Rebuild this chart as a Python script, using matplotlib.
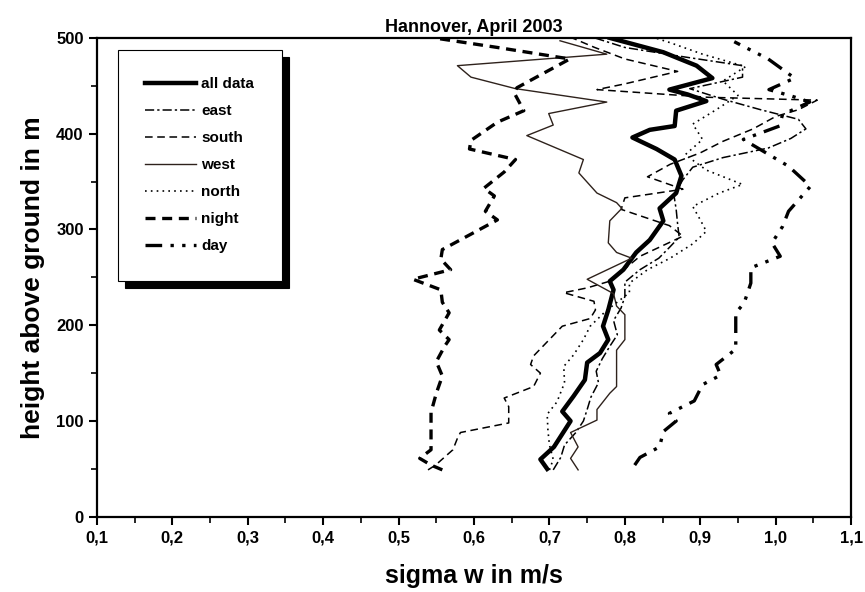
import matplotlib
matplotlib.use("Agg")
import matplotlib.pyplot as plt
from matplotlib.ticker import MultipleLocator, FuncFormatter

plt.rcParams['font.family'] = ['Liberation Sans', 'DejaVu Sans']
plt.rcParams['font.weight'] = 'bold'

# sigma w profiles (height in m, sigma w in m/s)
all_h = [50, 60, 73, 100, 110, 126, 143, 161, 171, 185, 199, 216, 237, 246, 258, 276, 289, 309, 322,
         338, 356, 373, 384, 396, 404, 408, 424, 434, 441, 446, 458, 471, 485, 500]
all_w = [0.697, 0.688, 0.706, 0.728, 0.717, 0.732, 0.747, 0.750, 0.767, 0.778, 0.771, 0.778, 0.785,
         0.780, 0.798, 0.815, 0.833, 0.851, 0.846, 0.868, 0.875, 0.866, 0.842, 0.810, 0.833, 0.866,
         0.868, 0.908, 0.883, 0.859, 0.916, 0.895, 0.851, 0.780]

east_h = [49, 62, 75, 88, 100, 112, 125, 140, 152, 165, 178, 190, 205, 218, 230, 245, 258, 270, 282,
          292, 305, 321, 336, 352, 365, 375, 385, 395, 405, 415, 425, 436, 447, 459, 471, 480, 490, 500]
east_w = [0.705, 0.715, 0.720, 0.735, 0.745, 0.750, 0.755, 0.765, 0.762, 0.770, 0.780, 0.790, 0.785,
          0.795, 0.800, 0.800, 0.820, 0.845, 0.860, 0.872, 0.870, 0.868, 0.865, 0.877, 0.890, 0.930,
          0.990, 1.020, 1.040, 1.030, 0.980, 0.930, 0.886, 0.956, 0.956, 0.880, 0.800, 0.760]

south_h = [49, 54, 70, 82, 88, 98, 115, 124, 136, 150, 159, 168, 199, 207, 216, 225, 234, 239, 246,
           259, 272, 293, 304, 321, 333, 342, 355, 368, 380, 392, 405, 418, 425, 435, 438, 446, 452,
           465, 478, 490, 500]
south_w = [0.539, 0.549, 0.572, 0.578, 0.582, 0.646, 0.646, 0.640, 0.679, 0.688, 0.675, 0.679, 0.717,
           0.754, 0.761, 0.759, 0.719, 0.750, 0.780, 0.800, 0.820, 0.877, 0.859, 0.795, 0.800, 0.877,
           0.830, 0.860, 0.900, 0.930, 0.970, 1.000, 1.030, 1.055, 0.910, 0.763, 0.800, 0.870, 0.800,
           0.760, 0.730]

west_h = [49, 61, 73, 88, 101, 112, 129, 136, 174, 185, 211, 220, 233, 248, 270, 276, 286, 309, 322,
          328, 338, 359, 373, 398, 409, 421, 433, 447, 459, 471, 483, 497]
west_w = [0.738, 0.728, 0.738, 0.728, 0.763, 0.763, 0.780, 0.789, 0.789, 0.800, 0.800, 0.789, 0.785,
          0.750, 0.809, 0.789, 0.778, 0.780, 0.796, 0.789, 0.763, 0.739, 0.745, 0.670, 0.705, 0.699,
          0.776, 0.655, 0.596, 0.578, 0.776, 0.714]

north_h = [49, 60, 75, 90, 107, 120, 140, 157, 169, 185, 199, 215, 234, 244, 258, 270, 285, 298, 310,
           324, 338, 347, 362, 378, 394, 410, 425, 440, 455, 470, 483, 495, 500]
north_w = [0.700, 0.705, 0.700, 0.698, 0.697, 0.710, 0.720, 0.719, 0.732, 0.745, 0.754, 0.775, 0.806,
           0.806, 0.830, 0.860, 0.890, 0.908, 0.900, 0.890, 0.925, 0.956, 0.908, 0.880, 0.903, 0.890,
           0.921, 0.950, 0.930, 0.960, 0.903, 0.860, 0.840]

night_h = [49, 54, 61, 70, 94, 109, 129, 147, 162, 178, 185, 195, 213, 224, 237, 248, 258, 269, 279,
           293, 310, 319, 335, 343, 360, 373, 384, 393, 412, 424, 443, 448, 478, 490, 500]
night_w = [0.558, 0.543, 0.528, 0.543, 0.543, 0.543, 0.550, 0.558, 0.550, 0.561, 0.567, 0.554, 0.567,
           0.558, 0.556, 0.519, 0.569, 0.556, 0.558, 0.591, 0.631, 0.615, 0.627, 0.613, 0.640, 0.655,
           0.594, 0.596, 0.631, 0.666, 0.653, 0.657, 0.727, 0.631, 0.547]

day_h = [54, 62, 73, 89, 100, 108, 121, 138, 148, 159, 175, 213, 223, 244, 260, 272, 286, 303, 319,
         345, 366, 394, 408, 420, 433, 439, 446, 458, 478, 496]
day_w = [0.813, 0.820, 0.846, 0.851, 0.868, 0.859, 0.892, 0.903, 0.927, 0.921, 0.947, 0.947, 0.958,
         0.967, 0.967, 1.006, 0.995, 1.009, 1.017, 1.046, 1.017, 0.957, 1.005, 1.009, 1.045, 1.022,
         0.991, 1.025, 0.990, 0.945]

fig = plt.figure(figsize=(8.65, 5.92), dpi=100)
ax = fig.add_axes([0.112, 0.127, 0.872, 0.809])

ax.plot(all_w, all_h, color='black', lw=3.2, ls='-', label='all data')
ax.plot(east_w, east_h, color='black', lw=1.1, ls=(0, (6, 2, 1.5, 2)), label='east')
ax.plot(south_w, south_h, color='black', lw=1.1, ls=(0, (5, 3)), label='south')
ax.plot(west_w, west_h, color='#2e221c', lw=1.0, ls='-', label='west')
ax.plot(north_w, north_h, color='black', lw=1.2, ls=(0, (1, 2.5)), label='north')
ax.plot(night_w, night_h, color='black', lw=2.4, ls=(0, (3, 2)), label='night')
ax.plot(day_w, day_h, color='black', lw=2.4, ls=(0, (5, 2.5, 1, 2.5, 1, 2.5)), label='day')

ax.set_xlim(0.1, 1.1)
ax.set_ylim(0, 500)
ax.xaxis.set_major_locator(MultipleLocator(0.1))
ax.xaxis.set_minor_locator(MultipleLocator(0.05))
ax.yaxis.set_major_locator(MultipleLocator(100))
ax.yaxis.set_minor_locator(MultipleLocator(50))
ax.xaxis.set_major_formatter(FuncFormatter(lambda v, p: f"{v:.1f}".replace('.', ',')))
ax.tick_params(which='major', direction='out', length=6, width=1.5, labelsize=12)
ax.tick_params(which='minor', direction='out', length=4, width=1.2)
for lab in ax.get_xticklabels() + ax.get_yticklabels():
    lab.set_fontweight('bold')
for sp in ax.spines.values():
    sp.set_linewidth(1.6)

ax.set_title('Hannover, April 2003', fontsize=13, fontweight='bold', pad=4)
ax.set_xlabel('sigma w in m/s', fontsize=18, fontweight='bold', labelpad=14)
ax.set_ylabel('height above ground in m', fontsize=19, fontweight='bold', labelpad=8)

leg = ax.legend(loc='upper left', bbox_to_anchor=(0.028, 0.975), borderaxespad=0,
                fancybox=False, edgecolor='black', framealpha=1, fontsize=11,
                handlelength=3.3, handletextpad=0.35, labelspacing=0.85, borderpad=1.8,
                shadow={'ox': 5, 'oy': -5, 'color': 'black', 'alpha': 1})
leg.get_frame().set_linewidth(0.8)
for t in leg.get_texts():
    t.set_fontweight('bold')

fig.savefig('out.png', dpi=100)
